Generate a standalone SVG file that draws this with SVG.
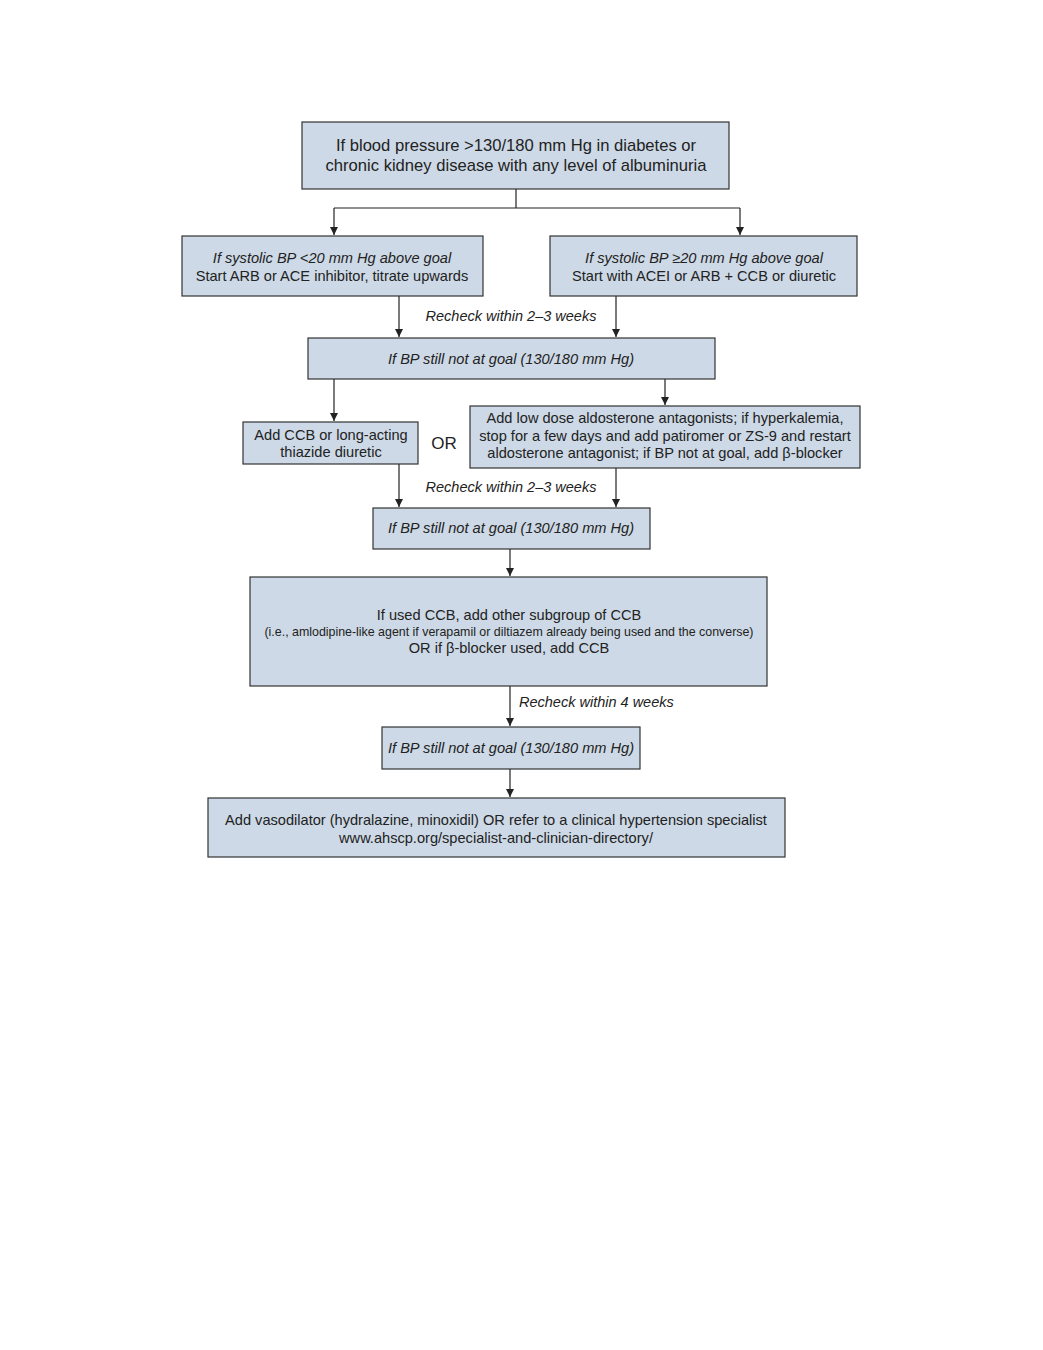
<svg xmlns="http://www.w3.org/2000/svg" width="1043" height="1350" viewBox="0 0 1043 1350">
<defs>
<marker id="ah" viewBox="0 0 10 10" refX="10" refY="5" markerWidth="9" markerHeight="8" markerUnits="userSpaceOnUse" orient="auto">
<path d="M0,0 L10,5 L0,10 z" fill="#222"/>
</marker>
<style>
.box{fill:#cdd9e6;stroke:#333;stroke-width:1.2}
.t{font-family:"Liberation Sans",Arial,sans-serif;fill:#222;text-anchor:middle}
.i{font-style:italic}
.c{fill:none;stroke:#222;stroke-width:1.2}
</style>
</defs>
<rect width="1043" height="1350" fill="#fff"/>
<g id="connectors">
<path class="c" d="M516,189 V208 M334,208 H740"/>
<path class="c" d="M334,208 V235" marker-end="url(#ah)"/>
<path class="c" d="M740,208 V235" marker-end="url(#ah)"/>
<path class="c" d="M399,296 V337" marker-end="url(#ah)"/>
<path class="c" d="M616,296 V337" marker-end="url(#ah)"/>
<path class="c" d="M334,379 V421" marker-end="url(#ah)"/>
<path class="c" d="M665,379 V405" marker-end="url(#ah)"/>
<path class="c" d="M399,464 V507" marker-end="url(#ah)"/>
<path class="c" d="M616,468 V507" marker-end="url(#ah)"/>
<path class="c" d="M510,549 V576" marker-end="url(#ah)"/>
<path class="c" d="M510,686 V726" marker-end="url(#ah)"/>
<path class="c" d="M510,769 V797" marker-end="url(#ah)"/>
<text class="t i" x="511" y="321" font-size="14.5">Recheck within 2–3 weeks</text>
<text class="t i" x="511" y="492" font-size="14.5">Recheck within 2–3 weeks</text>
<text class="t i" x="519" y="707" font-size="14.5" style="text-anchor:start">Recheck within 4 weeks</text>
<text class="t" x="444" y="449" font-size="17">OR</text>
</g>
<g id="n1">
<rect class="box" x="302" y="122" width="427" height="67"/>
<text class="t" x="516" y="151" font-size="16.6">If blood pressure &gt;130/180 mm Hg in diabetes or</text>
<text class="t" x="516" y="171" font-size="16.6">chronic kidney disease with any level of albuminuria</text>
</g>
<g id="n2l">
<rect class="box" x="182" y="236" width="301" height="60"/>
<text class="t i" x="332" y="263" font-size="14.6">If systolic BP &lt;20 mm Hg above goal</text>
<text class="t" x="332" y="281" font-size="14.6">Start ARB or ACE inhibitor, titrate upwards</text>
</g>
<g id="n2r">
<rect class="box" x="550" y="236" width="307" height="60"/>
<text class="t i" x="704" y="263" font-size="14.6">If systolic BP ≥20 mm Hg above goal</text>
<text class="t" x="704" y="281" font-size="14.6">Start with ACEI or ARB + CCB or diuretic</text>
</g>
<g id="n3">
<rect class="box" x="308" y="338" width="407" height="41"/>
<text class="t i" x="511" y="364" font-size="14.6">If BP still not at goal (130/180 mm Hg)</text>
</g>
<g id="n4l">
<rect class="box" x="243" y="422" width="175" height="42"/>
<text class="t" x="331" y="440" font-size="14.6">Add CCB or long-acting</text>
<text class="t" x="331" y="457" font-size="14.6">thiazide diuretic</text>
</g>
<g id="n4r">
<rect class="box" x="470" y="406" width="390" height="62"/>
<text class="t" x="665" y="423" font-size="14.6">Add low dose aldosterone antagonists; if hyperkalemia,</text>
<text class="t" x="665" y="441" font-size="14.6">stop for a few days and add patiromer or ZS-9 and restart</text>
<text class="t" x="665" y="458" font-size="14.6">aldosterone antagonist; if BP not at goal, add  β-blocker</text>
</g>
<g id="n5">
<rect class="box" x="373" y="508" width="277" height="41"/>
<text class="t i" x="511" y="533" font-size="14.6">If BP still not at goal (130/180 mm Hg)</text>
</g>
<g id="n6">
<rect class="box" x="250" y="577" width="517" height="109"/>
<text class="t" x="509" y="620" font-size="14.6">If used CCB, add other subgroup of CCB</text>
<text class="t" x="509" y="636" font-size="12.4">(i.e., amlodipine-like agent if verapamil or diltiazem already being used and the converse)</text>
<text class="t" x="509" y="653" font-size="14.6">OR if β-blocker used, add CCB</text>
</g>
<g id="n7">
<rect class="box" x="382" y="727" width="258" height="42"/>
<text class="t i" x="511" y="753" font-size="14.6">If BP still not at goal (130/180 mm Hg)</text>
</g>
<g id="n8">
<rect class="box" x="208" y="798" width="577" height="59"/>
<text class="t" x="496" y="825" font-size="14.6">Add vasodilator (hydralazine, minoxidil) OR refer to a clinical hypertension specialist</text>
<text class="t" x="496" y="843" font-size="14.6">www.ahscp.org/specialist-and-clinician-directory/</text>
</g>
</svg>
